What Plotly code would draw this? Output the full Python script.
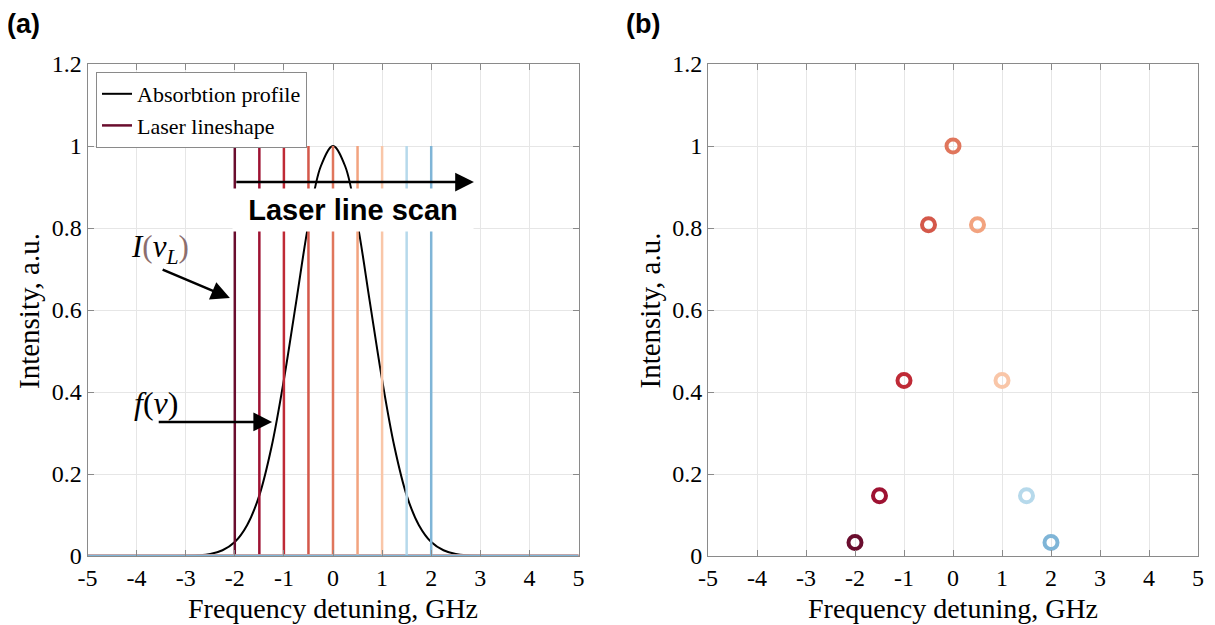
import plotly.graph_objects as go

# ---------------- data ----------------
PROFILE_X = [-5, -4.5, -4, -3.5, -3.25, -3, -2.75, -2.5, -2.25, -2, -1.75, -1.5, -1.25, -1,
             -0.75, -0.5, -0.25, 0, 0.25, 0.5, 0.75, 1, 1.25, 1.5, 1.75, 2, 2.25, 2.5,
             2.75, 3, 3.25, 3.5, 4, 4.5, 5]
PROFILE_Y = [0, 0, 0, 0.0001, 0.0002, 0.0005, 0.0017, 0.005, 0.014, 0.034, 0.075, 0.148, 0.267, 0.43,
             0.62, 0.81, 0.95, 1.0, 0.95, 0.81, 0.62, 0.43, 0.267, 0.148, 0.075, 0.034, 0.014, 0.005,
             0.0017, 0.0005, 0.0002, 0.0001, 0, 0, 0]

LASER_POS = [-2, -1.5, -1, -0.5, 0, 0.5, 1, 1.5, 2]
LASER_PEAK = 1.0
LASER_COLORS = ["#6a0d2e", "#9e1232", "#bf2a36", "#d4584a", "#e0765c",
                "#f2a37f", "#f9c6a8", "#b6d9eb", "#7fb5d7"]
SCAN_INTENSITY = [0.033, 0.147, 0.428, 0.808, 1.0, 0.808, 0.428, 0.147, 0.033]

X_TICKS = [-5, -4, -3, -2, -1, 0, 1, 2, 3, 4, 5]
X_TICK_LABELS = ["-5", "-4", "-3", "-2", "-1", "0", "1", "2", "3", "4", "5"]
Y_TICKS = [0, 0.2, 0.4, 0.6, 0.8, 1.0, 1.2]
Y_TICK_LABELS = ["0", "0.2", "0.4", "0.6", "0.8", "1", "1.2"]

SERIF = "Liberation Serif, Times New Roman, serif"
SANS = "Liberation Sans, Arial, sans-serif"

# page has an 8px body margin; figure sized to fit the window
W, H, OFF = 1207, 617, 8


def px(sx):
    return (sx - OFF) / W


def py(sy):
    return (H + OFF - sy) / H


fig = go.Figure()

# (a) absorption profile
fig.add_trace(go.Scatter(x=PROFILE_X, y=PROFILE_Y, mode="lines",
                         line=dict(color="black", width=2, shape="spline"),
                         name="Absorbtion profile", xaxis="x", yaxis="y"))

# (a) laser lines (each a delta line over a zero baseline)
x_min, x_max = X_TICKS[0], X_TICKS[-1]
for i, (p, c) in enumerate(zip(LASER_POS, LASER_COLORS)):
    fig.add_trace(go.Scatter(x=[x_min, p, p, p, x_max], y=[0, 0, LASER_PEAK, 0, 0], mode="lines",
                             line=dict(color=c, width=2.5), name="Laser lineshape",
                             showlegend=(i == 0), xaxis="x", yaxis="y"))

# (b) scanned intensity
fig.add_trace(go.Scatter(x=LASER_POS, y=SCAN_INTENSITY, mode="markers",
                         marker=dict(symbol="circle-open", size=13, color=LASER_COLORS,
                                     line=dict(width=4, color=LASER_COLORS)),
                         showlegend=False, xaxis="x2", yaxis="y2"))

axis_common = dict(range=[-5, 5], tickvals=X_TICKS, ticktext=X_TICK_LABELS,
                   showline=True, linecolor="#8a8a8a", linewidth=1, mirror="allticks",
                   ticks="inside", ticklen=6, tickcolor="#8a8a8a",
                   showgrid=True, gridcolor="#e6e6e6", gridwidth=1, zeroline=False,
                   tickfont=dict(family=SERIF, size=24, color="black"), automargin=False)
yaxis_common = dict(range=[0, 1.2], tickvals=Y_TICKS, ticktext=Y_TICK_LABELS,
                    showline=True, linecolor="#8a8a8a", linewidth=1, mirror="allticks",
                    ticks="inside", ticklen=6, tickcolor="#8a8a8a",
                    showgrid=True, gridcolor="#e6e6e6", gridwidth=1, zeroline=False,
                    tickfont=dict(family=SERIF, size=24, color="black"), automargin=False)

XD_A = [px(87.5), px(578.5)]
XD_B = [px(708), px(1198)]
YD = [py(556), py(64)]

fig.update_layout(
    width=W, height=H,
    margin=dict(l=0, r=0, t=0, b=0, pad=0),
    paper_bgcolor="white", plot_bgcolor="white",
    xaxis=dict(domain=XD_A, anchor="y", **axis_common),
    yaxis=dict(domain=YD, anchor="x", **yaxis_common),
    xaxis2=dict(domain=XD_B, anchor="y2", **axis_common),
    yaxis2=dict(domain=YD, anchor="x2", **yaxis_common),
    legend=dict(x=px(96), y=py(72), xanchor="left", yanchor="top",
                bgcolor="white", bordercolor="#8a8a8a", borderwidth=1,
                font=dict(family=SERIF, size=22, color="black"),
                itemwidth=30, tracegroupgap=0),
)

ann = []
# panel labels
for t, sx in [("<b>(a)</b>", 23), ("<b>(b)</b>", 643)]:
    ann.append(dict(text=t, x=px(sx), y=py(8), xref="paper", yref="paper", showarrow=False,
                    xanchor="center", yanchor="top", borderpad=0,
                    font=dict(family=SANS, size=27, color="black")))
# axis titles
for sx in [29, 649.5]:
    ann.append(dict(text="Intensity, a.u.", x=px(sx), y=py(311), xref="paper", yref="paper",
                    showarrow=False, xanchor="center", yanchor="middle",
                    textangle=-90, font=dict(family=SERIF, size=29, color="black")))
for sx in [333, 953]:
    ann.append(dict(text="Frequency detuning, GHz", x=px(sx), y=py(625), xref="paper", yref="paper",
                    xanchor="center", yanchor="bottom", showarrow=False, borderpad=0,
                    font=dict(family=SERIF, size=28, color="black")))

# white box with scan label
ann.append(dict(text="<b>Laser line scan</b>", x=0.41, y=0.844, xref="x", yref="y", showarrow=False,
                xanchor="center", yanchor="middle",
                width=236, height=38, bgcolor="white", borderpad=2,
                font=dict(family=SANS, size=29, color="black")))
# scan arrow
ann.append(dict(text="", x=2.87, y=0.912, ax=-2.0, ay=0.912, xref="x", yref="y", axref="x", ayref="y",
                showarrow=True, arrowhead=2, arrowsize=1.5, arrowwidth=2.5, arrowcolor="black"))
# I(nu_L) label + arrow
ann.append(dict(text="<i>I</i><span style='color:#8c6e6e'>(</span><i>ν<sub>L</sub></i><span style='color:#8c6e6e'>)</span>",
                x=-3.52, y=0.748, xref="x", yref="y", showarrow=False,
                xanchor="center", yanchor="middle",
                font=dict(family=SERIF, size=31, color="black")))
ann.append(dict(text="", x=-2.1, y=0.629, ax=-3.5, ay=0.70, xref="x", yref="y", axref="x", ayref="y",
                showarrow=True, arrowhead=2, arrowsize=1.5, arrowwidth=2.5, arrowcolor="black"))
# f(nu) label + arrow
ann.append(dict(text="<i>f</i>(<i>ν</i>)", x=-3.6, y=0.372, xref="x", yref="y", showarrow=False,
                xanchor="center", yanchor="middle",
                font=dict(family=SERIF, size=32, color="black")))
ann.append(dict(text="", x=-1.24, y=0.327, ax=-3.58, ay=0.327, xref="x", yref="y", axref="x", ayref="y",
                showarrow=True, arrowhead=2, arrowsize=1.5, arrowwidth=2.5, arrowcolor="black"))

fig.update_layout(annotations=ann)
fig.write_html("out.html")
